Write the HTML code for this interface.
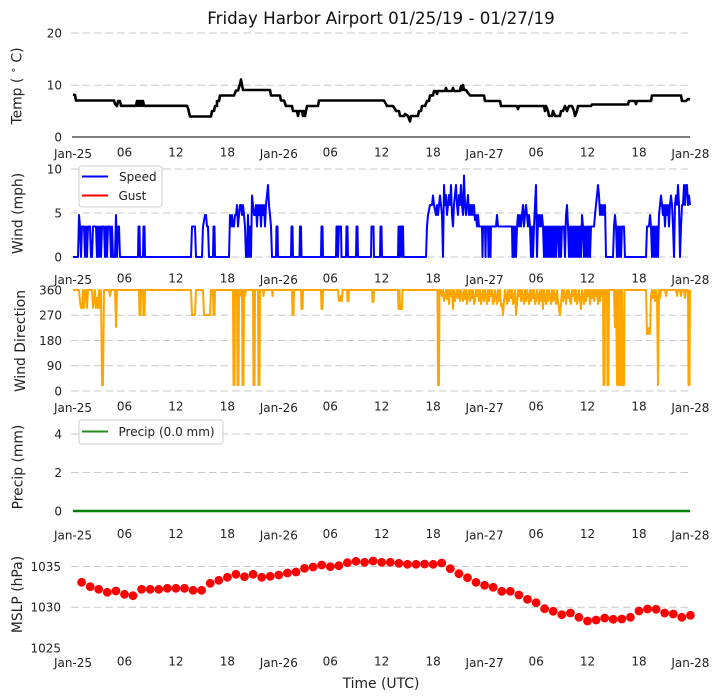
<!DOCTYPE html>
<html><head><meta charset="utf-8"><style>
html,body{margin:0;padding:0;background:#fff;}
svg{display:block;font-family:"DejaVu Sans","Liberation Sans",sans-serif;}
.g{stroke:#c8c8c8;stroke-width:1;stroke-dasharray:7.5,4;fill:none;}
.tk{font-size:12px;fill:#222;}
.yl{font-size:13.9px;fill:#222;}
</style></head><body>
<svg width="720" height="700" viewBox="0 0 720 700" xmlns="http://www.w3.org/2000/svg">
<rect width="720" height="700" fill="#fff"/>
<text x="381" y="24" text-anchor="middle" font-size="16.7" fill="#111">Friday Harbor Airport 01/25/19 - 01/27/19</text>

<!-- ===== Panel 1: Temp ===== -->
<line class="g" x1="71" y1="33" x2="690" y2="33"/>
<line class="g" x1="71" y1="85.3" x2="690" y2="85.3"/>
<line x1="72" y1="137" x2="690" y2="137" stroke="#333" stroke-width="1.3"/>
<g class="tk" text-anchor="end">
<text x="62" y="37.3">20</text><text x="62" y="89.6">10</text><text x="62" y="141.3">0</text>
</g>
<text class="yl" transform="translate(21.5,86) rotate(-90)" text-anchor="middle" xml:space="preserve">Temp ( <tspan font-size="10" dy="-5">∘</tspan><tspan dy="5"> C)</tspan></text>
<path fill="none" stroke="#000" stroke-width="2.6" stroke-linejoin="round" d="M73,94.5 L75,95 L76,100.5 L114,100.5 L115,104 L117,106 L118,101 L120,101 L121,105.8 L136,105.8 L137,101 L138,105.8 L139,101 L140,105.8 L141,101 L142,105.8 L143,101 L144,105.8 L187,105.8 L188,108 L190,116.5 L211,116.5 L212,111 L214,111 L215,106 L217,106 L217,101 L219,101 L220,95.5 L234,95.5 L236,90.5 L238,90.5 L240,84 L241,79.5 L242,85 L243,90 L270,90 L271,95.5 L280,95.5 L281,100.5 L284,100.5 L286,106 L292,106 L293,111 L297,111 L298,116 L299,111 L302,111 L303,116 L304,111 L305,116 L306,111 L307,106 L309,106 L310,106 L318,106 L319,100.5 L384,100.5 L386,104 L387,106 L393,106 L395,109 L396,111 L399,111 L400,116 L404,116 L405,114 L408,116 L410,121.5 L411,116 L418,116 L419,111 L421,111 L422,106 L425,106 L427,101 L429,101 L430,95.5 L433,95.5 L434,91 L436,91 L437,94 L438,91 L445,91 L446,88 L447,91 L452,91 L453,88 L454,91 L460,91 L461,86 L462,90 L463,85 L464,90 L466,90 L468,93 L470,95.5 L484,95.5 L485,101 L500,101 L501,106 L517,106 L518,109 L519,106 L544,106 L545,111 L546,106 L548,111 L549,116 L552,116 L553,111 L555,116 L560,116 L561,111 L563,111 L565,106 L567,111 L569,106 L572,106 L574,111 L575,116 L577,111 L578,106 L591,106 L592,104.5 L628,104.5 L629,101 L635,101 L636,104 L637,101 L651,101 L652,95.5 L681,95.5 L682,101 L686,101 L688,99 L690,99.5"/>
<g class="tk" text-anchor="middle">
<text x="73" y="158.2">Jan-25</text><text x="124.5" y="156.5">06</text><text x="175.9" y="156.5">12</text><text x="227.4" y="156.5">18</text><text x="278.8" y="158.2">Jan-26</text><text x="330.3" y="156.5">06</text><text x="381.7" y="156.5">12</text><text x="433.2" y="156.5">18</text><text x="484.6" y="158.2">Jan-27</text><text x="536.1" y="156.5">06</text><text x="587.5" y="156.5">12</text><text x="639" y="156.5">18</text><text x="690.4" y="158.2">Jan-28</text>
</g>

<!-- ===== Panel 2: Wind ===== -->
<line class="g" x1="71" y1="169" x2="690" y2="169"/>
<line class="g" x1="71" y1="213" x2="690" y2="213"/>
<line class="g" x1="71" y1="257" x2="690" y2="257"/>
<g class="tk" text-anchor="end">
<text x="62" y="173.3">10</text><text x="62" y="217.5">5</text><text x="62" y="261.3">0</text>
</g>
<text class="yl" transform="translate(22.5,213.5) rotate(-90)" text-anchor="middle">Wind (mph)</text>
<path fill="none" stroke="#0000ff" stroke-width="2" stroke-linejoin="round" d="M73,257 L78,257 L79,215 L80,226.5 L81,257 L82,226.5 L84,226.5 L85,257 L86,226.5 L87,257 L88,226.5 L90,226.5 L91,257 L92,257 L93,226.5 L96,226.5 L97,257 L98,226.5 L99,257 L100,226.5 L101,257 L102,226.5 L104,226.5 L105,257 L106,226.5 L107,257 L108,226.5 L110,226.5 L111,257 L112,226.5 L113,257 L115,257 L116,215 L117,257 L118,226.5 L119,226.5 L120,257 L138,257 L138.5,226.5 L139.5,226.5 L140,257 L143,257 L143.5,226.5 L144.5,226.5 L145,257 L191,257 L192,226.5 L195,226.5 L196,257 L202,257 L203,226.5 L205,215 L206,215 L207,226.5 L208,226.5 L209,257 L213,257 L213.5,226.5 L214.5,226.5 L215,257 L229,257 L230,215 L231,226.5 L232,215 L233,226.5 L234,226.5 L235,215 L236,215 L237,205 L238,226.5 L239,215 L240,205 L241,205 L242,215 L243,205 L244,215 L245,226.5 L246,257 L247,257 L248,215 L249,257 L250,226.5 L251,257 L252,195.5 L253,205 L254,215 L255,215 L256,205 L257,226.5 L258,205 L259,215 L260,205 L261,226.5 L262,205 L263,215 L264,205 L265,226.5 L266,205 L267,195 L268,185 L269,205 L270,215 L271,226.5 L272,257 L276,257 L276.5,226.5 L277.5,226.5 L278,257 L291,257 L291.5,226.5 L292.5,226.5 L293,257 L299.5,257 L300,226.5 L301,226.5 L301.5,257 L321,257 L321.5,226.5 L322.5,226.5 L323,257 L336,257 L336.5,226.5 L337.5,226.5 L338,257 L339,226.5 L341,226.5 L341.5,257 L346,257 L346.5,226.5 L347.5,226.5 L348,257 L356,257 L356.5,226.5 L357.5,226.5 L358,257 L371,257 L371.5,226.5 L373.5,226.5 L374,257 L380,257 L380.5,226.5 L381.5,226.5 L382,257 L398,257 L398.5,226.5 L399.5,257 L400,226.5 L401,226.5 L401.5,257 L402,226.5 L403,226.5 L403.5,257 L426,257 L427,226.5 L428,215 L430,205 L432,205 L433,195.5 L434,205 L436,215 L437,205 L438,215 L439,205 L440,195.5 L441,205 L442,215 L443,257 L444,185 L445,205 L446,195 L447,215 L448,205 L449,195 L450,205 L451,185 L452,215 L453,226.5 L454,205 L455,195 L456,185 L457,205 L458,215 L459,195 L460,205 L461,185 L462,205 L463,215 L464,175.5 L465,205 L466,215 L467,205 L468,195 L469,215 L470,205 L471,215 L472,205 L473,215 L474,205 L475,220 L476,215 L477,226.5 L478,215 L479,226.5 L480,226.5 L482,226.5 L482.5,257 L483,226.5 L485,226.5 L485.5,257 L486,226.5 L488,226.5 L488.5,257 L489,226.5 L490,226.5 L490.5,257 L491,226.5 L496,226.5 L497,215 L498,226.5 L512,226.5 L512.5,257 L513,226.5 L514,257 L515,226.5 L516,257 L517,226.5 L518,215 L519,226.5 L520,215 L521,226.5 L522,215 L523,205 L524,226.5 L525,215 L526,205 L527,215 L528,226.5 L529,215 L530,226.5 L531,257 L532,226.5 L533,257 L534,226.5 L535,205 L536,185 L537,257 L538,215 L539,226.5 L540,215 L541,226.5 L542,215 L543,226.5 L544,257 L545,226.5 L546,257 L547,226.5 L548,257 L549,226.5 L550,257 L551,226.5 L552,257 L553,226.5 L554,257 L555,226.5 L556,257 L557,226.5 L558,226.5 L559,257 L560,226.5 L561,257 L562,226.5 L564,226.5 L565,257 L566,215 L567,205 L568,226.5 L569,257 L570,226.5 L571,257 L572,226.5 L573,257 L574,226.5 L575,257 L576,226.5 L577,257 L578,226.5 L579,257 L580,226.5 L581,257 L582,215 L583,226.5 L584,257 L585,226.5 L586,257 L587,226.5 L588,257 L589,226.5 L590,257 L591,226.5 L594,226.5 L595,215 L596,205 L597,195.5 L598,185 L599,195.5 L600,215 L601,205 L602,215 L603,205 L604,215 L605,205 L606,257 L613,257 L614,226.5 L615,215 L616,226.5 L617,257 L618,226.5 L619,257 L620,226.5 L621,257 L622,226.5 L624,226.5 L625,257 L646,257 L647,226.5 L649,226.5 L650,215 L651,226.5 L652,257 L653,226.5 L654,257 L655,226.5 L656,257 L657,226.5 L658,257 L659,215 L660,205 L661,195.5 L662,205 L663,215 L664,205 L665,226.5 L666,205 L667,215 L668,205 L669,226.5 L670,205 L671,195.5 L672,205 L673,226.5 L674,257 L675,205 L676,195.5 L677,205 L678,185 L679,205 L680,257 L681,226.5 L682,205 L683,205 L684,185 L685,205 L686,185 L687,185 L688,205 L689,195.5 L690,205"/>
<rect x="79" y="166" width="83" height="41" rx="3" fill="#fff" fill-opacity="0.85" stroke="#cccccc" stroke-width="1"/>
<line x1="82" y1="176.5" x2="108" y2="176.5" stroke="#0000ff" stroke-width="2"/>
<line x1="82" y1="195.5" x2="108" y2="195.5" stroke="#ff0000" stroke-width="2"/>
<text x="119" y="180.8" font-size="12" fill="#222">Speed</text>
<text x="118.5" y="199.8" font-size="12" fill="#222">Gust</text>
<g class="tk" text-anchor="middle">
<text x="73" y="284.2">Jan-25</text><text x="124.5" y="282.5">06</text><text x="175.9" y="282.5">12</text><text x="227.4" y="282.5">18</text><text x="278.8" y="284.2">Jan-26</text><text x="330.3" y="282.5">06</text><text x="381.7" y="282.5">12</text><text x="433.2" y="282.5">18</text><text x="484.6" y="284.2">Jan-27</text><text x="536.1" y="282.5">06</text><text x="587.5" y="282.5">12</text><text x="639" y="282.5">18</text><text x="690.4" y="284.2">Jan-28</text>
</g>

<!-- ===== Panel 3: Wind Direction ===== -->
<line class="g" x1="71" y1="315.3" x2="690" y2="315.3"/>
<line class="g" x1="71" y1="340.5" x2="690" y2="340.5"/>
<line class="g" x1="71" y1="365.8" x2="690" y2="365.8"/>
<line class="g" x1="71" y1="391" x2="690" y2="391"/>
<g class="tk" text-anchor="end">
<text x="62" y="294.3">360</text><text x="62" y="319.6">270</text><text x="62" y="344.8">180</text><text x="62" y="370.1">90</text><text x="62" y="395.3">0</text>
</g>
<text class="yl" transform="translate(25,341) rotate(-90)" text-anchor="middle">Wind Direction</text>
<path fill="none" stroke="#ffa500" stroke-width="2" stroke-linejoin="round" d="M73,290 L79,290 L80,302 L81,308 L82,308 L83,290 L84,308 L85,290 L86,290 L87,308 L88,290 L92,290 L93,308 L94,302 L95,290 L96,308 L97,298 L98,308 L99,290 L100,308 L101,290 L102,385 L103,385 L104,290 L109,290 L110,296 L111,290 L115,290 L116,327 L117,290 L139,290 L139.5,315 L140.5,315 L141,290 L143,290 L143.5,315 L144.5,315 L145,290 L191,290 L192,315 L195,315 L196,290 L203,290 L204,315 L210,315 L211,290 L213,290 L213.5,315 L214.5,315 L215,290 L233,290 L233.5,385 L234.5,385 L235,290 L237,290 L237.5,385 L238.5,385 L239,290 L240,296 L241,290 L242,290 L242.5,385 L243.5,385 L244,290 L245,296 L246,290 L253,290 L253.5,385 L254.5,385 L255,290 L258,290 L258.5,385 L259.5,385 L260,290 L263,290 L263.5,296 L264,290 L272,290 L272.5,296 L273,290 L292,290 L292.5,315 L293.5,315 L294,290 L301,290 L301.5,309 L302.5,309 L303,290 L321,290 L321.5,309 L322.5,309 L323,290 L338,290 L338.5,296 L339,301 L340,301 L341,296 L342,301 L342.5,290 L347,290 L347.5,301 L348.5,301 L349,290 L372,290 L372.5,302 L373.5,302 L374,290 L398,290 L398.5,309 L399.5,290 L400,309 L402,309 L402.5,290 L437.5,290 L438,385 L439,385 L439.5,290 L441,290 L442,296 L443,290 L444,301 L445,296 L446,290 L447,299 L448,290 L449,304 L450,290 L451,296 L452,290 L453,309 L454,290 L455,301 L456,296 L457,290 L458,298 L459,290 L460,301 L461,290 L462,296 L463,301 L464,290 L465,299 L466,290 L467,304 L468,296 L469,290 L470,301 L471,290 L472,298 L473,290 L474,304 L475,301 L476,290 L477,296 L478,290 L479,301 L480,290 L481,304 L482,298 L483,290 L484,301 L485,290 L486,296 L487,304 L488,290 L489,301 L490,290 L491,296 L492,290 L493,304 L494,301 L495,290 L496,298 L497,304 L498,290 L499,301 L500,290 L501,306 L502,304 L503,315 L504,301 L505,290 L506,296 L507,304 L508,290 L509,301 L510,290 L511,298 L512,290 L513,304 L514,301 L515,290 L516,315 L517,304 L518,290 L519,296 L520,290 L521,301 L522,290 L523,298 L524,304 L525,290 L526,301 L527,290 L528,296 L529,304 L530,290 L531,301 L532,290 L533,298 L534,290 L535,304 L536,301 L537,290 L538,296 L539,304 L540,290 L541,301 L542,290 L543,309 L544,290 L545,298 L546,304 L547,290 L548,301 L549,290 L550,296 L551,304 L552,290 L553,301 L554,290 L555,298 L556,304 L557,290 L558,301 L559,309 L560,315 L561,304 L562,290 L563,301 L564,290 L565,296 L566,304 L567,290 L568,298 L569,290 L570,301 L571,304 L572,290 L573,296 L574,290 L575,301 L576,290 L577,304 L578,298 L579,290 L580,301 L581,309 L582,290 L583,296 L584,304 L585,290 L586,301 L587,290 L588,296 L589,290 L590,304 L591,290 L592,298 L593,290 L594,301 L595,290 L596,296 L597,290 L598,304 L599,290 L600,301 L601,290 L602,296 L603,290 L603.5,385 L604.5,385 L605,290 L607,290 L607.5,385 L608.5,385 L609,290 L614,290 L615,327 L616,290 L617,385 L618,290 L619,385 L620,290 L620.5,385 L621.5,385 L622,290 L623,385 L624,385 L624.5,290 L646,290 L647,334 L648,334 L649,328 L650,334 L651,296 L652,290 L653,298 L654,290 L655,301 L656,290 L657,296 L658,385 L659,290 L660,298 L661,290 L665,290 L666,296 L667,290 L676,290 L677,296 L678,290 L680,290 L681,296 L682,290 L684,290 L685,298 L686,290 L688,290 L688.5,385 L689.5,385 L690,290"/>
<g class="tk" text-anchor="middle">
<text x="73" y="412.2">Jan-25</text><text x="124.5" y="410.5">06</text><text x="175.9" y="410.5">12</text><text x="227.4" y="410.5">18</text><text x="278.8" y="412.2">Jan-26</text><text x="330.3" y="410.5">06</text><text x="381.7" y="410.5">12</text><text x="433.2" y="410.5">18</text><text x="484.6" y="412.2">Jan-27</text><text x="536.1" y="410.5">06</text><text x="587.5" y="410.5">12</text><text x="639" y="410.5">18</text><text x="690.4" y="412.2">Jan-28</text>
</g>

<!-- ===== Panel 4: Precip ===== -->
<line class="g" x1="71" y1="434" x2="690" y2="434"/>
<line class="g" x1="71" y1="472.5" x2="690" y2="472.5"/>
<g class="tk" text-anchor="end">
<text x="62" y="438.3">4</text><text x="62" y="476.8">2</text><text x="62" y="515.3">0</text>
</g>
<text class="yl" transform="translate(22.5,467) rotate(-90)" text-anchor="middle">Precip (mm)</text>
<line x1="73" y1="511" x2="690" y2="511" stroke="#008000" stroke-width="2.6"/>
<rect x="79" y="420" width="144" height="24" rx="3" fill="#fff" fill-opacity="0.85" stroke="#cccccc" stroke-width="1"/>
<line x1="82" y1="431.5" x2="108" y2="431.5" stroke="#228b22" stroke-width="2"/>
<text x="118.5" y="435.8" font-size="12" fill="#222">Precip (0.0 mm)</text>
<g class="tk" text-anchor="middle">
<text x="73" y="539.7">Jan-25</text><text x="124.5" y="538">06</text><text x="175.9" y="538">12</text><text x="227.4" y="538">18</text><text x="278.8" y="539.7">Jan-26</text><text x="330.3" y="538">06</text><text x="381.7" y="538">12</text><text x="433.2" y="538">18</text><text x="484.6" y="539.7">Jan-27</text><text x="536.1" y="538">06</text><text x="587.5" y="538">12</text><text x="639" y="538">18</text><text x="690.4" y="539.7">Jan-28</text>
</g>

<!-- ===== Panel 5: MSLP ===== -->
<line class="g" x1="71" y1="566.5" x2="690" y2="566.5"/>
<line class="g" x1="71" y1="607.3" x2="690" y2="607.3"/>
<g class="tk" text-anchor="end">
<text x="61" y="570.8">1035</text><text x="61" y="611.6">1030</text><text x="61" y="652.3">1025</text>
</g>
<text class="yl" transform="translate(22,594.5) rotate(-90)" text-anchor="middle">MSLP (hPa)</text>
<g fill="#ff0000">
<circle cx="81.6" cy="582.3" r="4.4"/><circle cx="90.2" cy="586.7" r="4.4"/><circle cx="98.7" cy="589.3" r="4.4"/><circle cx="107.3" cy="592.3" r="4.4"/><circle cx="115.9" cy="591" r="4.4"/><circle cx="124.5" cy="594.3" r="4.4"/><circle cx="133" cy="595.7" r="4.4"/><circle cx="141.6" cy="589.3" r="4.4"/><circle cx="150.2" cy="589.3" r="4.4"/><circle cx="158.8" cy="589.3" r="4.4"/><circle cx="167.3" cy="588.3" r="4.4"/><circle cx="175.9" cy="588.3" r="4.4"/><circle cx="184.5" cy="588.3" r="4.4"/><circle cx="193.1" cy="590.3" r="4.4"/><circle cx="201.6" cy="590.3" r="4.4"/><circle cx="210.2" cy="583.3" r="4.4"/><circle cx="218.8" cy="580.3" r="4.4"/><circle cx="227.4" cy="577.3" r="4.4"/><circle cx="235.9" cy="574.3" r="4.4"/><circle cx="244.5" cy="576.7" r="4.4"/><circle cx="253.1" cy="574.3" r="4.4"/><circle cx="261.7" cy="577.3" r="4.4"/><circle cx="270.2" cy="576.3" r="4.4"/><circle cx="278.8" cy="575" r="4.4"/><circle cx="287.4" cy="573" r="4.4"/><circle cx="296" cy="572" r="4.4"/><circle cx="304.5" cy="568.3" r="4.4"/><circle cx="313.1" cy="567" r="4.4"/><circle cx="321.7" cy="565" r="4.4"/><circle cx="330.3" cy="566.7" r="4.4"/><circle cx="338.8" cy="565.7" r="4.4"/><circle cx="347.4" cy="562.7" r="4.4"/><circle cx="356" cy="561.3" r="4.4"/><circle cx="364.6" cy="562.3" r="4.4"/><circle cx="373.1" cy="561" r="4.4"/><circle cx="381.7" cy="562.3" r="4.4"/><circle cx="390.3" cy="562.3" r="4.4"/><circle cx="398.9" cy="563.3" r="4.4"/><circle cx="407.4" cy="564.3" r="4.4"/><circle cx="416" cy="564.3" r="4.4"/><circle cx="424.6" cy="564" r="4.4"/><circle cx="433.2" cy="564.3" r="4.4"/><circle cx="441.7" cy="563" r="4.4"/><circle cx="450.3" cy="568.7" r="4.4"/><circle cx="458.9" cy="573.7" r="4.4"/><circle cx="467.5" cy="577.7" r="4.4"/><circle cx="476" cy="582.3" r="4.4"/><circle cx="484.6" cy="585.3" r="4.4"/><circle cx="493.2" cy="587.3" r="4.4"/><circle cx="501.8" cy="591.3" r="4.4"/><circle cx="510.3" cy="591.3" r="4.4"/><circle cx="518.9" cy="595" r="4.4"/><circle cx="527.5" cy="599.3" r="4.4"/><circle cx="536.1" cy="602.7" r="4.4"/><circle cx="544.6" cy="608.7" r="4.4"/><circle cx="553.2" cy="611.3" r="4.4"/><circle cx="561.8" cy="614.7" r="4.4"/><circle cx="570.4" cy="613" r="4.4"/><circle cx="578.9" cy="617.3" r="4.4"/><circle cx="587.5" cy="621" r="4.4"/><circle cx="596.1" cy="620" r="4.4"/><circle cx="604.7" cy="618" r="4.4"/><circle cx="613.2" cy="619.3" r="4.4"/><circle cx="621.8" cy="619" r="4.4"/><circle cx="630.4" cy="617.3" r="4.4"/><circle cx="639" cy="611" r="4.4"/><circle cx="647.5" cy="609" r="4.4"/><circle cx="656.1" cy="609.3" r="4.4"/><circle cx="664.7" cy="613" r="4.4"/><circle cx="673.3" cy="614" r="4.4"/><circle cx="681.8" cy="617.3" r="4.4"/><circle cx="690.4" cy="615.3" r="4.4"/>
</g>
<g class="tk" text-anchor="middle">
<text x="73" y="667.2">Jan-25</text><text x="124.5" y="665.5">06</text><text x="175.9" y="665.5">12</text><text x="227.4" y="665.5">18</text><text x="278.8" y="667.2">Jan-26</text><text x="330.3" y="665.5">06</text><text x="381.7" y="665.5">12</text><text x="433.2" y="665.5">18</text><text x="484.6" y="667.2">Jan-27</text><text x="536.1" y="665.5">06</text><text x="587.5" y="665.5">12</text><text x="639" y="665.5">18</text><text x="690.4" y="667.2">Jan-28</text>
</g>
<text class="yl" x="381" y="688" text-anchor="middle">Time (UTC)</text>
</svg>
</body></html>
